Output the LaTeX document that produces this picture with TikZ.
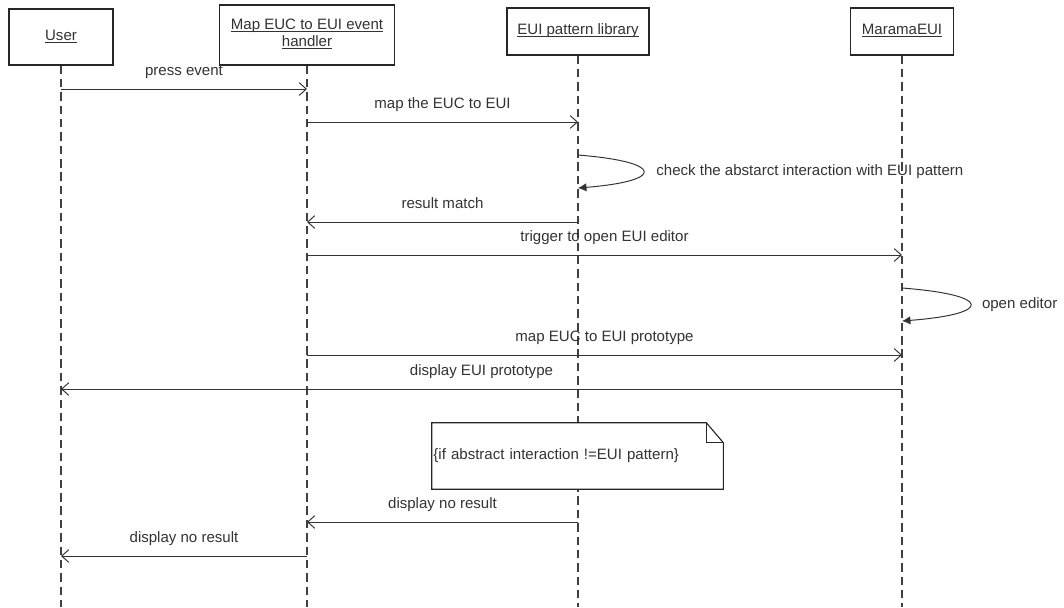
\documentclass[tikz,border=0pt]{standalone}
\usepackage{fontspec}
\setmainfont{Liberation Sans}
\usetikzlibrary{arrows.meta,calc}
\newcommand{\objname}[1]{\underline{\smash{#1}}\rule[-0.3em]{0pt}{1em}}
\begin{document}
\begin{tikzpicture}[x=0.025cm,y=-0.025cm,font=\fontsize{10.7}{12.5}\selectfont,
  obj/.style={draw=black!85,line width=0.8pt,fill=white,align=center,inner sep=2pt,text=black!80},
  life/.style={draw=black!75,line width=0.8pt,dash pattern=on 6pt off 3.5pt},
  msg/.style={draw=black!80,line width=0.7pt,-{Straight Barb[length=5pt,width=9pt]}},
  selfmsg/.style={draw=black!80,line width=0.7pt,-{Latex[length=6pt,width=6pt]}},
  lbl/.style={inner sep=1pt,text=black!80,anchor=base,yshift=9.5pt}]
  \useasboundingbox (0,0) rectangle (1064,607);
  \node[obj,minimum width=2.6cm,minimum height=1.4cm] (user) at (61,37){\objname{User}};
  \node[obj,minimum width=4.375cm,minimum height=1.5cm] (map) at (307,35){\objname{Map EUC to EUI event}\\\objname{handler}};
  \node[obj,minimum width=3.55cm,minimum height=1.175cm] (lib) at (578,31.5){\objname{EUI pattern library}};
  \node[obj,minimum width=2.575cm,minimum height=1.175cm] (marama) at (902,31.5){\objname{MaramaEUI}};
  \draw[life] (user.south) -- (user |- 0,607);
  \draw[life] (map.south) -- (map |- 0,607);
  \draw[life] (lib.south) -- (lib |- 0,607);
  \draw[life] (marama.south) -- (marama |- 0,607);
  \draw[msg] (user |- 0,89) -- node[lbl]{press event} (map |- 0,89);
  \draw[msg] (map |- 0,122) -- node[lbl]{map the EUC to EUI} (lib |- 0,122);
  \draw[selfmsg] (lib |- 0,155) .. controls ($(lib |- 0,155)+(87,7)$) and ($(lib |- 0,188)+(87,-7)$) .. node[pos=0.5,anchor=west,inner sep=1pt,xshift=8pt,text=black!80]{check the abstarct interaction with EUI pattern} (lib |- 0,188);
  \draw[msg] (lib |- 0,222) -- node[lbl]{result match} (map |- 0,222);
  \draw[msg] (map |- 0,255) -- node[lbl]{trigger to open EUI editor} (marama |- 0,255);
  \draw[selfmsg] (marama |- 0,288) .. controls ($(marama |- 0,288)+(91,7)$) and ($(marama |- 0,321)+(91,-7)$) .. node[pos=0.5,anchor=west,inner sep=1pt,xshift=7pt,text=black!80]{open editor} (marama |- 0,321);
  \draw[msg] (map |- 0,355) -- node[lbl]{map EUC to EUI prototype} (marama |- 0,355);
  \draw[msg] (marama |- 0,389) -- node[lbl]{display EUI prototype} (user |- 0,389);
  \node[fill=white,minimum width=7.275cm,minimum height=1.65cm,text width=7.2cm,align=left,inner sep=1pt,text=black!80] (note) at (577.5,456){\{if abstract interaction !=EUI pattern\}};
  \draw[draw=black!85,line width=0.8pt] (note.north west) -- ($(note.north east)+(-17,0)$) -- ($(note.north east)+(0,20)$) -- (note.south east) -- (note.south west) -- cycle;
  \draw[draw=black!85,line width=0.7pt] ($(note.north east)+(-17,0)$) -- ($(note.north east)+(-17,20)$) -- ($(note.north east)+(0,20)$);
  \draw[msg] (lib |- 0,522) -- node[lbl]{display no result} (map |- 0,522);
  \draw[msg] (map |- 0,556) -- node[lbl]{display no result} (user |- 0,556);
\end{tikzpicture}
\end{document}
